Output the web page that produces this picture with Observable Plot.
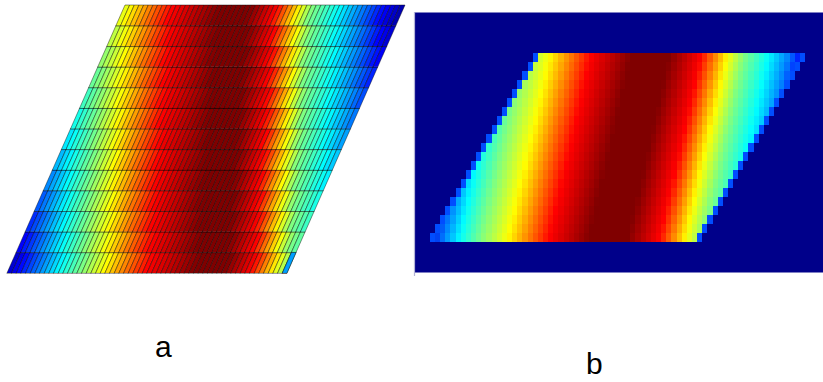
<!DOCTYPE html>
<html>
<head>
<meta charset="utf-8">
<script src="https://cdn.jsdelivr.net/npm/d3@7"></script>
<script src="https://cdn.jsdelivr.net/npm/@observablehq/plot@0.6"></script>
<style>
  html, body { margin: 0; padding: 0; background: #fff; overflow: hidden; }
  #wrap { position: relative; width: 823px; height: 382px; font-family: "Liberation Sans", Arial, sans-serif; }
  #pa { position: absolute; left: 0; top: 0; }
  #pb { position: absolute; left: 410px; top: 0; }
  .lab { position: absolute; font-size: 30px; line-height: 1; color: #000; }
  #la { left: 155px; top: 332px; }
  #lb { left: 586px; top: 349px; }
</style>
</head>
<body>
<div id="wrap">
  <div id="pa"></div>
  <div id="pb"></div>
  <div class="lab" id="la">a</div>
  <div class="lab" id="lb">b</div>
</div>
<script>
// jet colormap breakpoints
const jetStops = [0, 0.125, 0.375, 0.625, 0.875, 1];
const jetColors = ["#000080", "#0000ff", "#00ffff", "#ffff00", "#ff0000", "#800000"];
const jet = d3.scaleLinear().domain(jetStops).range(jetColors).interpolate(d3.interpolateRgb).clamp(true);

// (a) sheared mesh: 13 element rows x 60 element columns
const meshCols = 60;
const meshRows = 13;
const meshShear = 1.945;    // horizontal offset per row, in element widths
const meshBandTilt = 0.35;  // drift of the field band per row, in element widths
// field profile across the mesh (position in element widths -> field level)
const meshStopPos = [0, 3.2, 7.5, 11.8, 16.7, 21.4, 25.7, 30.6, 40.9, 47.4, 53.1, 55.5, 57.9, 60.6, 66.4, 71.4, 76.1, 81];
const meshStopVal = [0.04, 0.125, 0.25, 0.375, 0.5, 0.625, 0.75, 0.875, 1, 1, 0.875, 0.75, 0.625, 0.5, 0.375, 0.25, 0.125, 0.02];
// element with a deviating value (bottom row, last column)
const meshOddRow = [0];
const meshOddCol = [59];
const meshOddVal = [0.28];

// (b) rasterised field: 21 pixel rows x 53 pixel columns, stepped one column per row
const rasterRows = 21;
const rasterCols = 53;
const rasterStep = 1;
const rasterBandTilt = 0.4;
const rasterStopPos = [0, 2.9, 5.8, 10.1, 15.2, 19.1, 23.3, 31.1, 38.5, 44.7, 47.3, 49.8, 53.1, 57.8, 61.7, 64.2, 67.1];
const rasterStopVal = [0.1, 0.25, 0.375, 0.5, 0.625, 0.75, 0.875, 1, 1, 0.875, 0.75, 0.625, 0.5, 0.375, 0.25, 0.125, 0];
const rasterEdgeVal = 0.2;  // partially covered pixels on the slanted edges
const rasterExtentX = [-3.1, 76.5];
const rasterExtentY = [-3.33, 25.56];

// ---- build mesh elements (two vertices per element edge pair for areaX)
const meshCells = [];
for (let k = 0; k < meshRows; k++) {
  for (let c = 0; c < meshCols; c++) {
    const id = k * meshCols + c;
    const pos = c + 0.5 + meshShear * (k + 0.5) - meshBandTilt * k;
    for (const dy of [0, 1]) {
      meshCells.push({id, row: k, col: c, pos, y: k + dy,
        x1: c + meshShear * (k + dy), x2: c + 1 + meshShear * (k + dy)});
    }
  }
}
const oddCells = meshOddRow.flatMap((r, i) =>
  meshCells.filter(d => d.row === r && d.col === meshOddCol[i]).map(d => ({...d, val: meshOddVal[i]})));

const chartA = Plot.plot({
  width: 410, height: 290,
  marginLeft: 7, marginRight: 5, marginTop: 5, marginBottom: 17,
  x: {domain: [0, meshCols + meshShear * meshRows], axis: null},
  y: {domain: [0, meshRows], axis: null},
  color: {type: "linear", domain: meshStopPos, range: meshStopVal.map(jet), interpolate: "rgb", clamp: true},
  marks: [
    Plot.areaX(meshCells, {y: "y", x1: "x1", x2: "x2", z: "id", fill: "pos",
      stroke: "#000", strokeWidth: 0.6, strokeOpacity: 0.7}),
    Plot.areaX(oddCells, {y: "y", x1: "x1", x2: "x2", z: "id", fill: d => jet(d.val),
      stroke: "#000", strokeWidth: 0.6, strokeOpacity: 0.7})
  ]
});
document.getElementById("pa").append(chartA);

// ---- build raster pixels
const rasterCells = [];
for (let k = 0; k < rasterRows; k++) {
  for (let j = 0; j < rasterCols; j++) {
    const x1 = k * rasterStep + j;
    rasterCells.push({row: k, col: j, x1, x2: x1 + 1, y1: k, y2: k + 1,
      pos: j + 0.5 + (rasterStep - rasterBandTilt) * k,
      edge: j === 0 || j === rasterCols - 1});
  }
}

const chartB = Plot.plot({
  width: 413, height: 290,
  marginLeft: 4, marginRight: 0, marginTop: 12, marginBottom: 18,
  x: {domain: rasterExtentX, axis: null},
  y: {domain: rasterExtentY, axis: null},
  color: {type: "linear", domain: rasterStopPos, range: rasterStopVal.map(jet), interpolate: "rgb", clamp: true},
  marks: [
    Plot.frame({fill: jet(0.01), stroke: null}),
    Plot.rect(rasterCells.filter(d => !d.edge), {x1: "x1", x2: "x2", y1: "y1", y2: "y2", fill: "pos", shapeRendering: "crispEdges"}),
    Plot.rect(rasterCells.filter(d => d.edge), {x1: "x1", x2: "x2", y1: "y1", y2: "y2", fill: jet(rasterEdgeVal), shapeRendering: "crispEdges"}),
    Plot.ruleX([rasterExtentX[0]], {stroke: "#b4b4d8", strokeWidth: 1.2, insetBottom: -4})
  ]
});
document.getElementById("pb").append(chartB);
</script>
</body>
</html>
